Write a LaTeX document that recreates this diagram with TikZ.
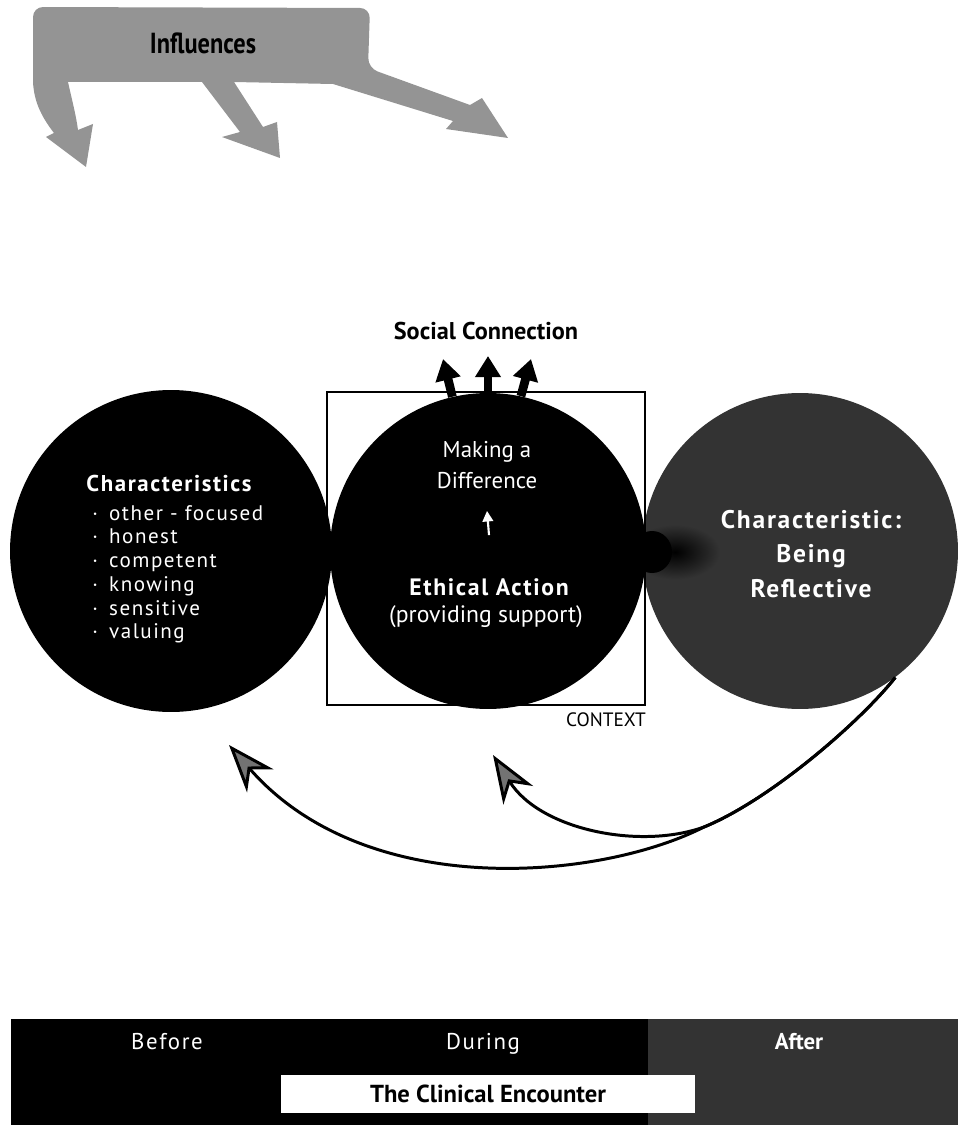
\documentclass[tikz,border=0pt]{standalone}
\usepackage{fontspec}
\setmainfont{PT Sans}
\newfontfamily\espacada[LetterSpace=7]{PT Sans}
\newfontfamily\estreita[FakeStretch=0.84]{PT Sans}
\usetikzlibrary{arrows.meta}
\newcommand\marca{\makebox[0.8em][l]{·}}

\begin{document}
\begin{tikzpicture}[
    % Unidade = 1 pixel da figura (eixo y para baixo)
    x=0.02cm, y=-0.02cm,
    circulo/.style={circle, inner sep=0pt, minimum size=6.32cm},
    branco/.style={text=white, inner sep=0pt},
    setasocial/.style={line width=5pt, -{Triangle[length=12pt, width=14pt]}},
    setabranca/.style={white, line width=1.2pt, -{Triangle[length=6pt, width=6pt]}},
    setacurva/.style={line width=1.7pt, -{Stealth[length=0.95cm, width=0.7cm, inset=0.3cm, fill=black!55]}},
    contexto/.style={line width=1.1pt}
]
    \useasboundingbox (0,0) rectangle (958,1125);

    % ==========================================
    % 1. INFLUENCIAS (faixa com tres setas)
    % ==========================================
    \fill[black!42] (33,82) [rounded corners=0.2cm] -- (33,7) -- (370,8) -- (368,68) [sharp corners]
        -- (470,105) -- (482,98) -- (508,138) -- (446,129) -- (453,121) -- (333,84) % seta da direita
        -- (234,82) -- (263,127) -- (277,122) -- (280,158) -- (222,137) -- (240,132) -- (202,82) % seta do meio
        -- (68,82) .. controls (72,100) and (76,115) .. (78,130) -- (93,124) -- (86,167)
        -- (46,137) -- (54,133) .. controls (40,115) and (34,100) .. (33,82) -- cycle; % seta da esquerda
    \node[font=\estreita\bfseries\fontsize{16.5}{18}\selectfont] (influencias) at (203,43) {Influences};

    % ==========================================
    % 2. CIRCULOS
    % ==========================================
    \node[circulo, fill=black!80] (refl) at (800,551) {}; % circulo da direita (cinza escuro)
    \shade[inner color=black, outer color=black!80] (675,552) ellipse [x radius=0.9cm, y radius=0.55cm]; % mancha entre os circulos
    \fill (652,552) ellipse [x radius=0.4cm, y radius=0.42cm];
    \node[circulo, fill=black] (acao) at (488,551) {};
    \node[circulo, fill=black, minimum size=6.44cm] (carac) at (171,551) {};

    % Caixa do contexto
    \draw[contexto] (327,392) rectangle (645,705);
    \node[font=\fontsize{11}{13}\selectfont, inner sep=0pt] (ctx) at (606,720) {CONTEXT};

    % ==========================================
    % 3. TEXTOS DOS CIRCULOS
    % ==========================================
    \node[branco, font=\espacada\bfseries\fontsize{13}{15}\selectfont] (titulo) at (169,484) {Characteristics};
    \node[branco, align=left, anchor=north west, font=\espacada\fontsize{12}{13.5}\selectfont] (lista) at (92,505)
        {\marca other - focused\\\marca honest\\\marca competent\\\marca knowing\\\marca sensitive\\\marca valuing};

    \node[branco, align=center, font=\fontsize{13}{17.5}\selectfont] (diferenca) at (487,465) {Making a\\Difference};
    \node[branco, font=\espacada\bfseries\fontsize{13.5}{15}\selectfont] (etica) at (489,587) {Ethical Action};
    \node[branco, font=\fontsize{13.5}{15}\selectfont] (apoio) at (486,617) {(providing support)};
    \draw[setabranca] ([yshift=0.86cm]etica.north) -- ([yshift=-0.44cm]diferenca.south);

    \node[branco, align=center, font=\espacada\bfseries\fontsize{14.5}{19.5}\selectfont] (reflexivo) at (811,554)
        {Characteristic:\\Being\\Reflective};

    % ==========================================
    % 4. CONEXAO SOCIAL
    % ==========================================
    \node[font=\bfseries\fontsize{13.8}{15}\selectfont] (social) at (486,331) {Social Connection};
    \coordinate (sc1) at (443,359);
    \coordinate (sc2) at (488,356);
    \coordinate (sc3) at (531,359);
    \draw[setasocial] (acao.103) -- (sc1);
    \draw[setasocial] (acao.90) -- (sc2);
    \draw[setasocial] (acao.78) -- (sc3);

    % ==========================================
    % 5. SETAS CURVAS (reflexao de volta)
    % ==========================================
    \coordinate (junta) at (704,827);
    \coordinate (pontaext) at (229,745);
    \coordinate (pontaint) at (493,755);
    \draw[setacurva] (refl.-53) .. controls (860,722) and (770,800) .. (junta)
        .. controls (600,880) and (366,902) .. (pontaext);
    \draw[setacurva] (refl.-53) .. controls (860,722) and (770,800) .. (junta)
        .. controls (640,850) and (540,830) .. (pontaint);

    % ==========================================
    % 6. BARRA DO ENCONTRO CLINICO
    % ==========================================
    \fill[black] (11,1019) rectangle (648,1125);
    \fill[black!80] (648,1019) rectangle (958,1125);
    \node[fill=white, minimum width=8.3cm, minimum height=0.76cm, inner sep=0pt,
        font=\bfseries\fontsize{14}{15}\selectfont] (encontro) at (488,1094) {The Clinical Encounter};
    \node[branco, anchor=base, font=\espacada\fontsize{13}{15}\selectfont] (antes) at (167,1049) {Before};
    \node[branco, anchor=base, font=\espacada\fontsize{13}{15}\selectfont] (durante) at (483,1049) {During};
    \node[branco, anchor=base, font=\bfseries\fontsize{13}{15}\selectfont] (depois) at (799,1049) {After};

\end{tikzpicture}
\end{document}
